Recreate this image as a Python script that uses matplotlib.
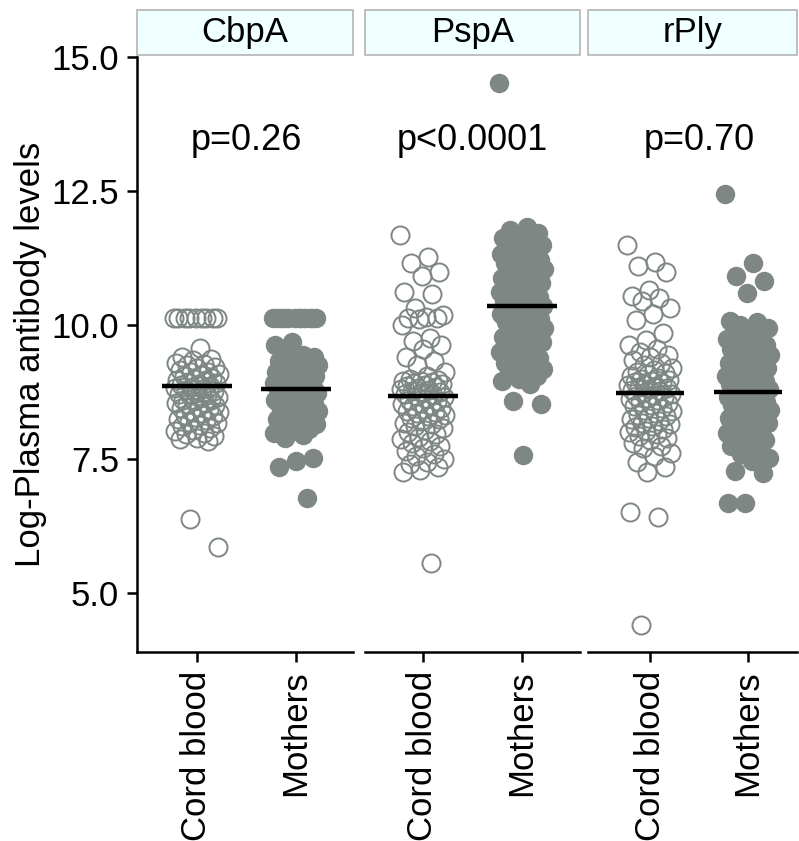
import numpy as np
import matplotlib
matplotlib.use("Agg")
import matplotlib.pyplot as plt
from matplotlib.patches import Rectangle

plt.rcParams["font.family"] = ["Liberation Sans", "DejaVu Sans"]

# -------------------------
# Data
# -------------------------

antigens = ["CbpA", "PspA", "rPly"]
groups = ["Cord blood", "Mothers"]
p_labels = ["p=0.26", "p<0.0001", "p=0.70"]

cbpa_cord = [10.13, 10.13, 10.13, 10.13, 10.13, 10.13, 10.13, 10.13, 10.13,
             9.58, 9.40, 9.36, 9.34, 9.30, 9.27, 9.26, 9.21, 9.20, 9.17, 9.13,
             9.12, 9.09, 9.07, 9.05, 9.02, 9.00, 8.98, 8.97, 8.94, 8.92, 8.90,
             8.88, 8.87, 8.85, 8.83, 8.80, 8.79, 8.77, 8.74, 8.72, 8.70, 8.69,
             8.66, 8.64, 8.61, 8.60, 8.58, 8.55, 8.54, 8.52, 8.50, 8.47, 8.45,
             8.44, 8.40, 8.38, 8.36, 8.33, 8.31, 8.28, 8.25, 8.23, 8.20, 8.17,
             8.14, 8.12, 8.08, 8.05, 8.03, 7.99, 7.96, 7.93, 7.90, 7.87, 7.84,
             6.38, 5.86]
cbpa_mothers = [10.13, 10.13, 10.13, 10.13, 10.13, 10.13, 10.13, 10.13, 10.13,
                10.13, 10.13, 10.13, 9.68, 9.62, 9.45, 9.42, 9.40, 9.36, 9.33,
                9.31, 9.28, 9.25, 9.22, 9.20, 9.18, 9.15, 9.12, 9.10, 9.08, 9.05,
                9.02, 9.00, 8.97, 8.95, 8.92, 8.90, 8.88, 8.85, 8.83, 8.81, 8.79,
                8.76, 8.74, 8.71, 8.69, 8.66, 8.64, 8.61, 8.58, 8.56, 8.53, 8.50,
                8.48, 8.45, 8.42, 8.40, 8.37, 8.34, 8.31, 8.28, 8.25, 8.22, 8.19,
                8.16, 8.13, 8.10, 8.06, 8.02, 7.98, 7.94, 7.90, 7.52, 7.46, 7.36,
                6.78]

pspa_cord = [11.68, 11.27, 11.16, 10.99, 10.92, 10.62, 10.58, 10.32, 10.18,
             10.15, 10.14, 10.13, 10.12, 10.00, 9.76, 9.70, 9.62, 9.55, 9.40,
             9.32, 9.26, 9.12, 9.05, 9.00, 8.98, 8.96, 8.95, 8.93, 8.92, 8.90,
             8.88, 8.86, 8.85, 8.83, 8.81, 8.79, 8.77, 8.75, 8.73, 8.71, 8.69,
             8.67, 8.65, 8.62, 8.60, 8.58, 8.55, 8.53, 8.50, 8.48, 8.45, 8.43,
             8.40, 8.38, 8.35, 8.32, 8.30, 8.27, 8.24, 8.21, 8.18, 8.15, 8.12,
             8.08, 8.04, 8.00, 7.96, 7.92, 7.88, 7.84, 7.80, 7.75, 7.70, 7.65,
             7.60, 7.55, 7.50, 7.45, 7.40, 7.35, 7.30, 7.26, 5.56]
pspa_mothers = [14.52, 11.83, 11.78, 11.72, 11.68, 11.62, 11.58, 11.55, 11.50,
                11.47, 11.43, 11.40, 11.36, 11.33, 11.30, 11.26, 11.22, 11.19,
                11.15, 11.12, 11.08, 11.05, 11.02, 10.98, 10.95, 10.92, 10.88,
                10.85, 10.82, 10.78, 10.75, 10.72, 10.68, 10.65, 10.62, 10.58,
                10.55, 10.52, 10.48, 10.45, 10.42, 10.39, 10.36, 10.33, 10.30,
                10.27, 10.24, 10.21, 10.18, 10.15, 10.12, 10.08, 10.05, 10.02,
                9.98, 9.95, 9.92, 9.88, 9.85, 9.82, 9.78, 9.75, 9.72, 9.68, 9.65,
                9.61, 9.58, 9.54, 9.50, 9.46, 9.42, 9.38, 9.34, 9.30, 9.26, 9.22,
                9.18, 9.14, 9.10, 9.05, 9.00, 8.95, 8.90, 8.58, 8.52, 7.57]

rply_cord = [11.49, 11.18, 11.10, 10.99, 10.65, 10.55, 10.50, 10.45, 10.32,
             10.20, 10.09, 9.85, 9.72, 9.62, 9.55, 9.50, 9.45, 9.40, 9.35, 9.30,
             9.25, 9.20, 9.16, 9.12, 9.10, 9.08, 9.05, 9.02, 9.00, 8.98, 8.96,
             8.94, 8.92, 8.90, 8.88, 8.86, 8.84, 8.82, 8.80, 8.78, 8.76, 8.74,
             8.72, 8.70, 8.68, 8.66, 8.64, 8.62, 8.60, 8.57, 8.54, 8.51, 8.48,
             8.45, 8.42, 8.39, 8.36, 8.33, 8.30, 8.27, 8.24, 8.21, 8.18, 8.15,
             8.12, 8.09, 8.06, 8.03, 8.00, 7.97, 7.93, 7.89, 7.85, 7.80, 7.75,
             7.70, 7.62, 7.55, 7.45, 7.35, 7.25, 6.51, 6.42, 4.40]
rply_mothers = [12.44, 11.16, 10.92, 10.82, 10.60, 10.08, 10.05, 10.00, 9.95,
                9.90, 9.86, 9.82, 9.78, 9.74, 9.70, 9.66, 9.62, 9.58, 9.55, 9.52,
                9.48, 9.45, 9.42, 9.38, 9.35, 9.32, 9.29, 9.26, 9.23, 9.20, 9.17,
                9.14, 9.11, 9.08, 9.05, 9.02, 8.99, 8.96, 8.93, 8.90, 8.87, 8.84,
                8.81, 8.78, 8.75, 8.72, 8.69, 8.66, 8.63, 8.60, 8.57, 8.54, 8.51,
                8.48, 8.45, 8.42, 8.39, 8.36, 8.33, 8.30, 8.27, 8.24, 8.21, 8.18,
                8.15, 8.11, 8.07, 8.03, 7.99, 7.95, 7.90, 7.85, 7.80, 7.74, 7.68,
                7.60, 7.52, 7.46, 7.28, 7.24, 6.68, 6.68]

# horizontal lines (central value per group)
centre_lines = [[8.86, 8.81], [8.68, 10.35], [8.73, 8.75]]

panel_data = [
    [cbpa_cord, cbpa_mothers],
    [pspa_cord, pspa_mothers],
    [rply_cord, rply_mothers],
]

# -------------------------
# Plot settings
# -------------------------

W, H = 799, 841
grey = "#7f8785"
strip_fill = "#f0ffff"
strip_edge = "#b4b4b4"
fs = 25
jitter = 0.23
phi = (np.sqrt(5) - 1) / 2

# panel extents in pixels: left, right, and where the two ticks sit
panels_px = [(137, 353, 197, 296), (365, 580, 423, 522), (588, 797, 650, 748)]
top_px, bottom_px = 57, 652
strip_px = 45

fig = plt.figure(figsize=(W / 100, H / 100), dpi=100)

for k, (l, r, t1, t2) in enumerate(panels_px):
    ax = fig.add_axes([l / W, 1 - bottom_px / H, (r - l) / W,
                       (bottom_px - top_px) / H])
    unit = t2 - t1
    ax.set_xlim(1 - (t1 - l) / unit, 2 + (r - t2) / unit)
    ax.set_ylim(3.9, 15.0)

    for g in range(2):
        vals = np.array(panel_data[k][g])
        n = len(vals)
        offs = ((np.arange(n) * phi) % 1 - 0.5) * 2 * jitter
        xs = (g + 1) + offs
        if g == 0:
            ax.plot(xs, vals, "o", ms=13, mfc="none", mec=grey, mew=1.4,
                    clip_on=False)
        else:
            ax.plot(xs, vals, "o", ms=14, mfc=grey, mec="none",
                    clip_on=False)
        ax.plot([g + 1 - 0.35, g + 1 + 0.35], [centre_lines[k][g]] * 2,
                color="black", lw=3.2, solid_capstyle="butt", zorder=5)

    ax.text(1.5, 13.45, p_labels[k], ha="center", va="center", fontsize=fs + 1)

    # strip header
    ax.add_patch(Rectangle((0, 1.003), 1, strip_px / (bottom_px - top_px),
                           transform=ax.transAxes, clip_on=False,
                           facecolor=strip_fill, edgecolor=strip_edge, lw=1.2))
    ax.text(0.5, 1.003 + strip_px / 2 / (bottom_px - top_px), antigens[k],
            transform=ax.transAxes, ha="center", va="center", fontsize=fs)

    for s in ["top", "right"]:
        ax.spines[s].set_visible(False)
    ax.spines["bottom"].set_linewidth(1.8)
    ax.spines["left"].set_linewidth(1.8)

    ax.set_xticks([1, 2])
    ax.set_xticklabels(groups, rotation=90, fontsize=fs)
    ax.tick_params(axis="x", length=7.5, width=1.8, pad=6)

    if k == 0:
        ax.set_yticks([5.0, 7.5, 10.0, 12.5, 15.0])
        ax.set_yticklabels(["5.0", "7.5", "10.0", "12.5", "15.0"], fontsize=fs)
        ax.tick_params(axis="y", length=7, width=1.8, pad=6)
        ax.set_ylabel("Log-Plasma antibody levels", fontsize=fs, labelpad=3)
    else:
        ax.spines["left"].set_visible(False)
        ax.set_yticks([])

fig.savefig("out.png", dpi=100)
